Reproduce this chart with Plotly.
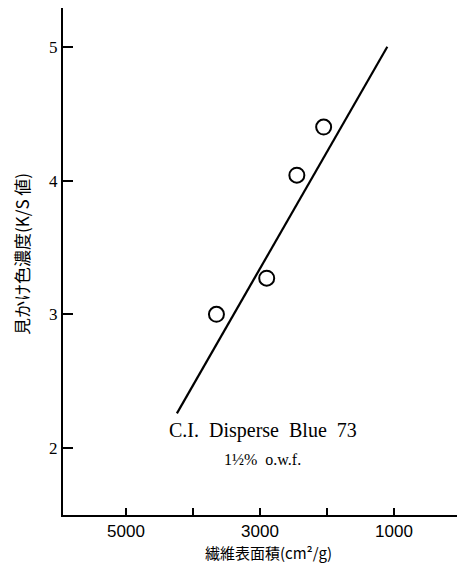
import plotly.graph_objects as go

# Measured dye uptake vs. fibre surface area
surface_area = [3650, 2900, 2450, 2050]          # cm²/g
ks_value = [3.00, 3.27, 4.04, 4.40]              # K/S

# Fitted straight line through the measurements
fit_area = [4240, 1100]
fit_ks = [2.26, 5.00]

x_ticks = [5000, 4000, 3000, 2000, 1000]
x_ticklabels = ["5000", "", "3000", "", "1000"]
y_ticks = [2, 3, 4, 5]

serif = "Liberation Serif, Times New Roman, serif"
sans = "Liberation Sans, Arial, sans-serif"
cjk = "Noto Sans CJK JP"

# plotting-area geometry (pixels)
W, H = 457, 564
M_L, M_R, M_T, M_B = 63, 0, 8, 49
PLOT_H = H - M_T - M_B


def py_to_paper(py):
    """Convert a pixel row inside the page to a paper y coordinate."""
    return 1 - (py - M_T) / PLOT_H


fig = go.Figure()
fig.add_trace(go.Scatter(
    x=fit_area, y=fit_ks, mode="lines",
    line=dict(color="black", width=2.2),
    showlegend=False, hoverinfo="skip",
))
fig.add_trace(go.Scatter(
    x=surface_area, y=ks_value, mode="markers",
    marker=dict(symbol="circle-open", size=15, color="black",
                line=dict(color="black", width=2)),
    showlegend=False,
))

fig.update_layout(
    width=W, height=H,
    margin=dict(l=M_L, r=M_R, t=M_T, b=M_B),
    plot_bgcolor="white", paper_bgcolor="white",
    font=dict(family=serif, color="black", size=16),
    xaxis=dict(
        range=[5940, 60], showgrid=False, zeroline=False,
        showline=True, linecolor="black", linewidth=2,
        ticks="inside", ticklen=7, tickwidth=2, tickcolor="black",
        tickvals=x_ticks, ticktext=x_ticklabels,
        tickfont=dict(family=sans, size=17),
    ),
    yaxis=dict(
        range=[1.5, 5.29], showgrid=False, zeroline=False,
        showline=True, linecolor="black", linewidth=2,
        ticks="inside", ticklen=10, tickwidth=2, tickcolor="black",
        tickvals=y_ticks, tickfont=dict(family=serif, size=17),
    ),
    annotations=[
        dict(text="C.I.\u00a0 Disperse\u00a0 Blue\u00a0 73", x=2950,
             y=py_to_paper(430), xref="x", yref="paper",
             xanchor="center", yanchor="middle",
             showarrow=False, font=dict(family=serif, size=20)),
        dict(text="1½%\u00a0 o.w.f.", x=2960, y=py_to_paper(459),
             xref="x", yref="paper", xanchor="center", yanchor="middle",
             showarrow=False, font=dict(family=serif, size=16)),
        dict(text="見かけ色濃度(K/S 値)", textangle=-90, x=0, y=py_to_paper(254),
             xref="paper", yref="paper", xanchor="center", yanchor="middle",
             xshift=-42, showarrow=False,
             font=dict(family=cjk, size=17)),
        dict(text="繊維表面積(cm²/g)", x=2880, y=0, xref="x", yref="paper",
             xanchor="center", yanchor="middle", yshift=-37,
             showarrow=False, font=dict(family=cjk, size=15)),
    ],
)

fig.write_html("out.html")
